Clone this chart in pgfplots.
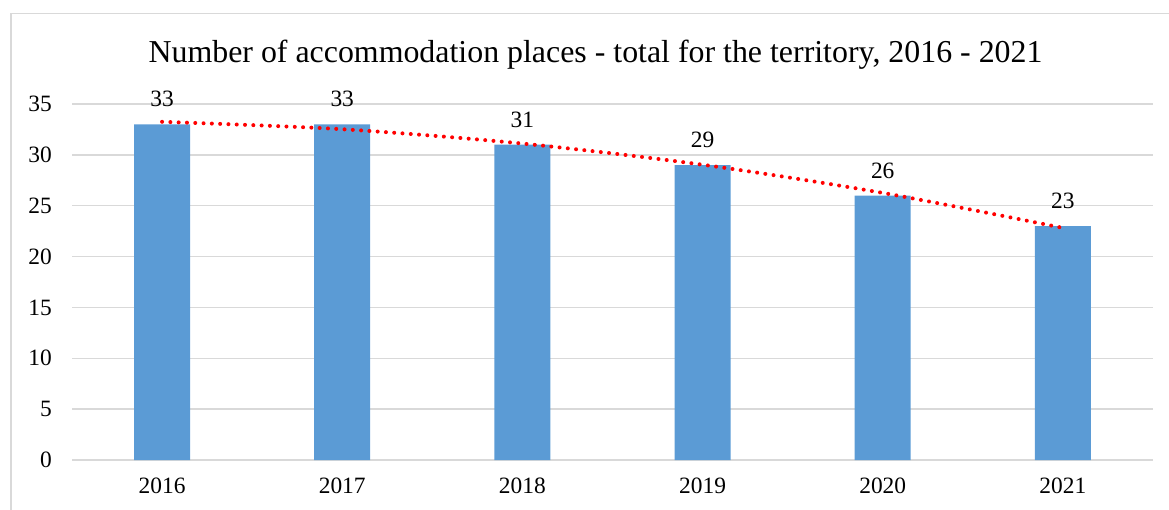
\documentclass[border=0pt]{standalone}
\usepackage{pgfplots}
\pgfplotsset{compat=1.18}
\usepackage{fontspec}
\setmainfont{Liberation Serif}
\definecolor{barblue}{HTML}{5B9BD5}
\definecolor{gridgray}{HTML}{D9D9D9}
\begin{document}
\begin{tikzpicture}
\path[use as bounding box] (0,0) rectangle (1169bp,510bp);
\draw[gridgray, line width=1.5bp] (10.75bp,0) -- (10.75bp,496.5bp) -- (1169bp,496.5bp);
\begin{axis}[
  at={(72bp,50bp)}, anchor=south west,
  scale only axis, width=1081bp, height=356bp,
  xmin=-0.5, xmax=5.5, ymin=0, ymax=35,
  ytick={0,5,...,35},
  xtick={0,1,2,3,4,5},
  xticklabels={2016,2017,2018,2019,2020,2021},
  axis line style={draw=none},
  tick style={draw=none},
  ymajorgrids,
  major grid style={gridgray, line width=1.5bp},
  /pgf/number format/assume math mode=true,
  tick label style={font=\fontsize{23.5}{28}\selectfont},
  yticklabel style={inner sep=0pt, anchor=east, xshift=-20bp},
  xticklabel style={inner sep=0pt, anchor=north, yshift=-18bp},
  clip=false,
]
\addplot[ybar, bar width=56bp, fill=barblue, draw=none,
  nodes near coords,
  every node near coord/.append style={font=\fontsize{23.5}{28}\selectfont, text=black, inner sep=0pt, anchor=south, yshift=17bp},
] coordinates {(0,33) (1,33) (2,31) (3,29) (4,26) (5,23)};
\addplot[red, line width=4bp, line cap=round, dash pattern=on 0bp off 8.3bp, smooth, mark=none]
  coordinates {(0,33.25) (1,32.52) (2,31.11) (3,29.03) (4,26.26) (5,22.82)};
\end{axis}
\node[anchor=base, font=\fontsize{32}{38}\selectfont, inner sep=0pt] at (595.5bp,447bp)
  {Number of accommodation places - total for the territory, 2016 - 2021};
\end{tikzpicture}
\end{document}
